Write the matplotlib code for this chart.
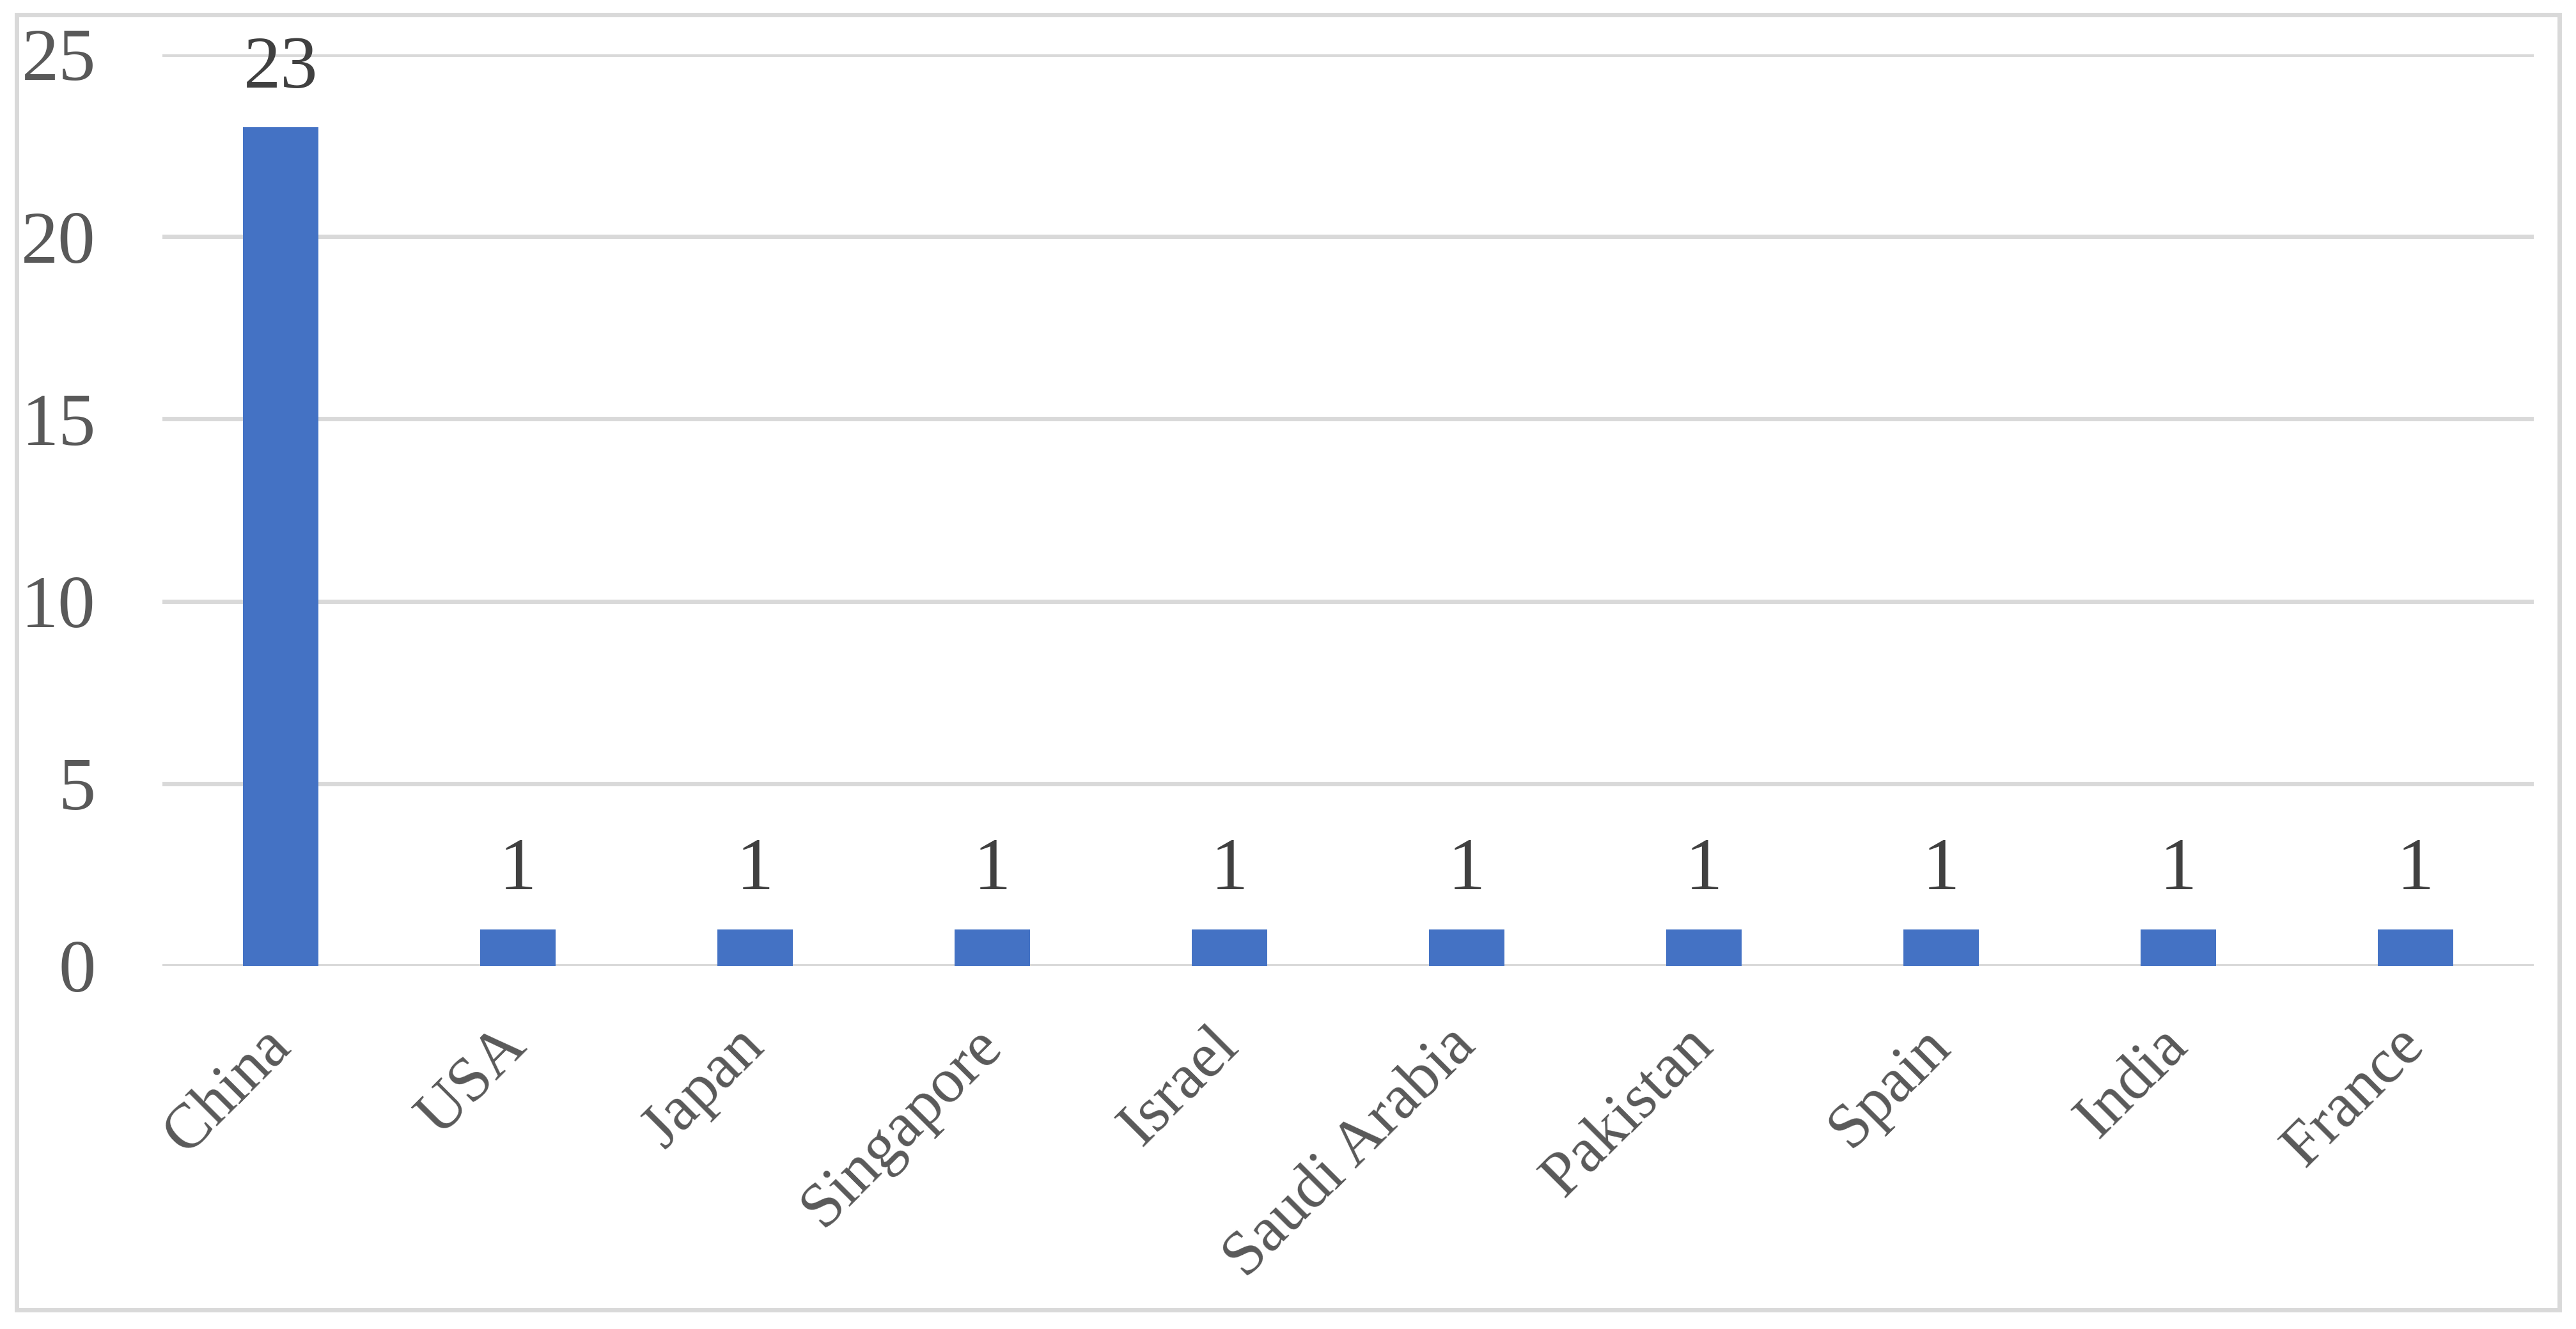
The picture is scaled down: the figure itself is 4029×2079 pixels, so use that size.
import matplotlib
matplotlib.use("Agg")
import matplotlib.pyplot as plt
from matplotlib.patches import Rectangle

countries = ["China", "USA", "Japan", "Singapore", "Israel", "Saudi Arabia",
             "Pakistan", "Spain", "India", "France"]
counts = [23, 1, 1, 1, 1, 1, 1, 1, 1, 1]
y_ticks = [0, 5, 10, 15, 20, 25]

W, H, DPI = 4030, 2079, 100
plt.rcParams['font.family'] = ['Liberation Serif', 'DejaVu Serif']

fig = plt.figure(figsize=(W / DPI, H / DPI), dpi=DPI)
ax = fig.add_axes([254 / W, 1 - 1511 / H, (3963 - 254) / W, (1511 - 85) / H])

x = list(range(len(countries)))
bars = ax.bar(x, counts, width=0.318, color="#4472C4", zorder=3)

ax.set_xlim(-0.5, len(countries) - 0.5)
ax.set_ylim(0, 25)
ax.set_yticks(y_ticks)
ax.set_yticklabels([str(v) for v in y_ticks])
ax.yaxis.grid(True, color="#D9D9D9", linewidth=5, zorder=0)
ax.set_axisbelow(True)
for s in ax.spines.values():
    s.set_visible(False)

ax.tick_params(axis='y', length=0, pad=75, labelsize=84, labelcolor="#595959")
ax.tick_params(axis='x', length=0, pad=80, labelsize=71, labelcolor="#595959")
ax.set_xticks(x)
ax.set_xticklabels(countries, rotation=45, ha='right', va='center',
                   rotation_mode='anchor')
for lbl in ax.get_yticklabels():
    lbl.set_verticalalignment('center_baseline')

for xi, v in zip(x, counts):
    ax.annotate(str(v), (xi, v), xytext=(0, 45), textcoords='offset points',
                ha='center', va='baseline', fontsize=84, color="#404040")

fig.patches.append(Rectangle((26.5 / W, 1 - 2048.5 / H), (4003 - 26.5) / W,
                             (2048.5 - 22.5) / H, transform=fig.transFigure,
                             fill=False, edgecolor="#D9D9D9", linewidth=5))

fig.savefig("out.png", dpi=DPI, facecolor="white")
